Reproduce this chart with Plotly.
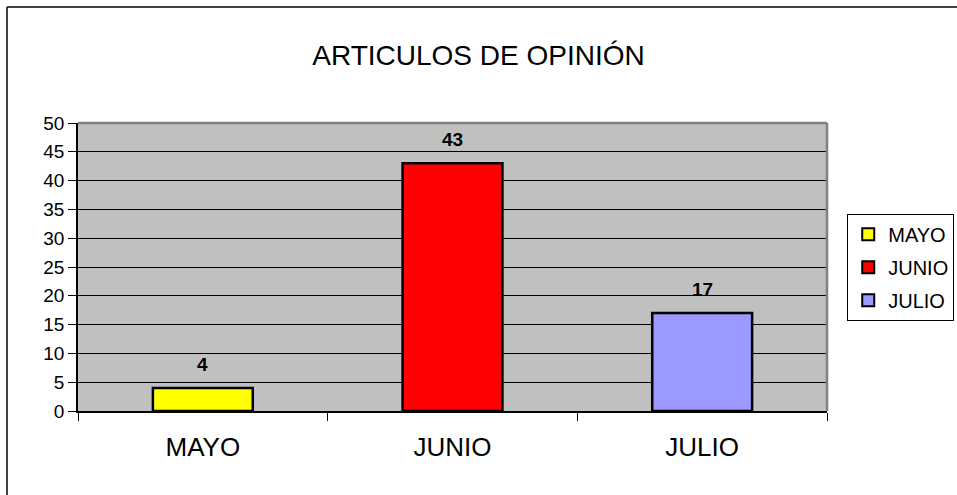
import plotly.graph_objects as go

categories = ["MAYO", "JUNIO", "JULIO"]
values = [4, 43, 17]
colors = ["#FFFF00", "#FF0000", "#9999FF"]
y_ticks = [0, 5, 10, 15, 20, 25, 30, 35, 40, 45, 50]

FONT = "Liberation Sans, Arial, sans-serif"

fig = go.Figure()
for cat, val, col in zip(categories, values, colors):
    fig.add_trace(go.Bar(
        x=[cat], y=[val], name=cat, width=0.4, legendgroup=cat,
        marker=dict(color=col, line=dict(color="black", width=2.5)),
    ))
    fig.add_annotation(
        x=cat, y=val, text=f"<b>{val}</b>", showarrow=False,
        yanchor="bottom", yshift=11,
        font=dict(family=FONT, size=19, color="black"),
    )

# plot area gray border (top, right)
fig.add_shape(type="line", xref="paper", yref="paper", x0=0, x1=1, y0=1, y1=1,
              line=dict(color="#808080", width=2.5))
fig.add_shape(type="line", xref="paper", yref="paper", x0=1, x1=1, y0=0, y1=1,
              line=dict(color="#808080", width=2.5))
# outer chart frame (top and left visible)
fig.add_shape(type="line", xref="paper", yref="paper", x0=-0.0948, x1=1.18, y0=1.4028, y1=1.4028,
              line=dict(color="black", width=1.5))
fig.add_shape(type="line", xref="paper", yref="paper", x0=-0.0948, x1=-0.0948, y0=1.4028, y1=-0.3,
              line=dict(color="black", width=1.5))

fig.update_layout(
    width=957, height=495,
    margin=dict(l=78, r=130, t=123, b=84, autoexpand=False),
    paper_bgcolor="white",
    plot_bgcolor="#C0C0C0",
    barmode="overlay",
    font=dict(family=FONT, color="black"),
    title=dict(text="ARTICULOS DE OPINIÓN", x=0.5, xref="container", xanchor="center",
               y=1 - 55 / 495, yref="container", yanchor="middle",
               font=dict(family=FONT, size=28, color="black")),
    showlegend=True,
    legend=dict(
        x=1.027, y=0.685, xanchor="left", yanchor="top",
        bgcolor="white", bordercolor="black", borderwidth=1,
        font=dict(family=FONT, size=20, color="black"),
        traceorder="grouped", tracegroupgap=4,
        itemsizing="constant",
    ),
    xaxis=dict(
        categoryorder="array", categoryarray=categories,
        showline=True, linecolor="black", linewidth=1.5,
        ticks="outside", tickson="boundaries", ticklen=8, tickcolor="black",
        showgrid=False, tickfont=dict(family=FONT, size=26, color="black"),
        ticklabelstandoff=12,
    ),
    yaxis=dict(
        range=[0, 50], tickvals=y_ticks,
        showline=True, linecolor="black", linewidth=1.5,
        ticks="outside", ticklen=8, tickcolor="black",
        showgrid=True, gridcolor="black", gridwidth=1,
        zeroline=False,
        tickfont=dict(family=FONT, size=19, color="black"),
    ),
)

fig.write_html("out.html", config={"displayModeBar": False},
               post_script="document.body.style.margin='0';")
